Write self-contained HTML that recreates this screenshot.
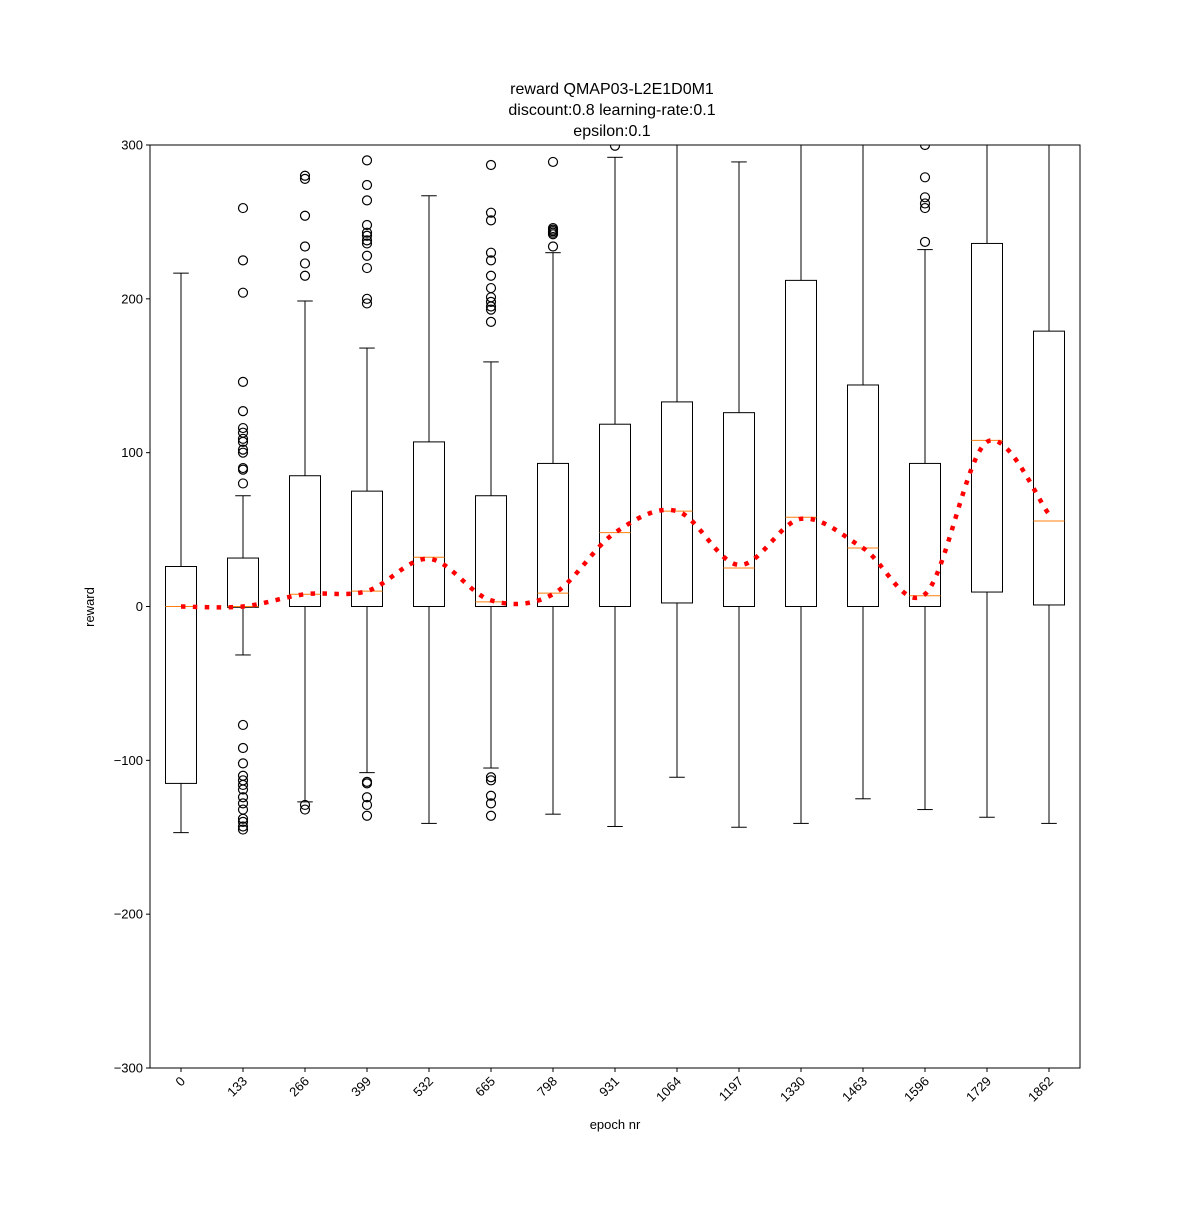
<!DOCTYPE html>
<html><head><meta charset="utf-8"><style>
body{margin:0;background:#fff}
svg text{font-family:"Liberation Sans","DejaVu Sans",sans-serif;fill:#000}
</style></head><body>
<svg id="chart" width="1200" height="1200" xmlns="http://www.w3.org/2000/svg">
<rect width="1200" height="1200" fill="#fff"/>
<g>
<text x="612" y="94" font-size="16" text-anchor="middle">reward QMAP03-L2E1D0M1</text>
<text x="612" y="115" font-size="16" text-anchor="middle">discount:0.8 learning-rate:0.1</text>
<text x="612" y="136" font-size="16" text-anchor="middle">epsilon:0.1</text>
</g>
<defs><clipPath id="pc"><rect x="150" y="145" width="930" height="923"/></clipPath></defs>
<g id="plot" clip-path="url(#pc)"></g>
<g id="axes"></g>
<rect x="150" y="145" width="930" height="923" fill="none" stroke="#000" stroke-width="1"/>
<text x="94" y="607" font-size="13" text-anchor="middle" transform="rotate(-90 94 607)">reward</text>
<text x="615" y="1129" font-size="13" text-anchor="middle">epoch nr</text>
</svg>
<script>
const categories=["0","133","266","399","532","665","798","931","1064","1197","1330","1463","1596","1729","1862"];
const whiskerLow=[-147,-31.5,-127,-108,-141,-105,-135,-143,-111,-143.5,-141,-125,-132,-137,-141];
const q1=[-115,-0.5,0,0,0,0,0,0,2.3,0,0,0,0,9.4,1];
const medians=[0,0,8,10,32,3,8.7,48,62,25,58,38,7,108,55.6];
const q3=[26,31.5,85,75,107,72,93,118.5,133,126,212,144,93,236,179];
const whiskerHigh=[216.7,72,198.6,168,267,159,230,292,340,289,360,330,232,360,340];
const outliers=[[],
[259,225,204,146,127,116,113,109,107,102,100,90,89,80,-77,-92,-102,-110,-113,-116,-119,-124,-128,-132,-138,-140,-143,-145],
[280,278,254,234,223,215,-129,-132],
[290,274,264,248,243,241,238,236,228,220,200,197,-114,-115,-124,-129,-136],
[],
[287,256,251,230,225,215,207,201,198,195,193,185,-111,-113,-123,-128,-136],
[289,246,245,244,243,242,234],
[299.5],[],[],[],[],
[300,279,266,262,259,237],[],[]];
const trend=[0,0,8,10,31,4,8,48,62,27,57,38,8,107,60];
const yTicks=[-300,-200,-100,0,100,200,300];

const NS="http://www.w3.org/2000/svg";
const X0=150,X1=1080,Y0=145,Y1=1068,VMIN=-300,VMAX=300;
const xS=i=>X0+(X1-X0)/categories.length*(i+0.5);
const yS=v=>Y1-(v-VMIN)/(VMAX-VMIN)*(Y1-Y0);
const plot=document.getElementById('plot'),axes=document.getElementById('axes');
function mk(tag,at,par){const e=document.createElementNS(NS,tag);for(const k in at)e.setAttribute(k,at[k]);par.appendChild(e);return e;}
const BW=31,CAP=15.5;
categories.forEach((c,i)=>{
  const x=xS(i);
  const g=mk('g',{},plot);
  
  
  const L={stroke:'#000','stroke-width':1,fill:'none'};
  mk('line',Object.assign({x1:x,x2:x,y1:yS(q3[i]),y2:yS(whiskerHigh[i])},L),g);
  mk('line',Object.assign({x1:x,x2:x,y1:yS(q1[i]),y2:yS(whiskerLow[i])},L),g);
  mk('line',Object.assign({x1:x-CAP/2,x2:x+CAP/2,y1:yS(whiskerHigh[i]),y2:yS(whiskerHigh[i])},L),g);
  mk('line',Object.assign({x1:x-CAP/2,x2:x+CAP/2,y1:yS(whiskerLow[i]),y2:yS(whiskerLow[i])},L),g);
  mk('rect',Object.assign({x:x-BW/2,y:yS(q3[i]),width:BW,height:yS(q1[i])-yS(q3[i])},L),g);
  mk('line',{x1:x-BW/2,x2:x+BW/2,y1:yS(medians[i]),y2:yS(medians[i]),stroke:'#ff7f0e','stroke-width':1},g);
  outliers[i].forEach(v=>{
    const o=mk('circle',{cx:x,cy:yS(v),r:4.5,fill:'none',stroke:'#000','stroke-width':1.2},g);
    
    
  });
  // x tick
  mk('line',{x1:x,x2:x,y1:Y1,y2:Y1+4,stroke:'#000'},axes);
  const t=mk('text',{x:0,y:0,'font-size':13,'text-anchor':'end',transform:`translate(${x+5},${Y1+14}) rotate(-45)`},axes);
  
  
  t.textContent=c;
});
// trend line (Catmull-Rom smooth)
const pts=trend.map((v,i)=>[xS(i),yS(v)]);
let d=`M${pts[0][0]},${pts[0][1]}`;
for(let i=0;i<pts.length-1;i++){
  const p0=pts[Math.max(0,i-1)],p1=pts[i],p2=pts[i+1],p3=pts[Math.min(pts.length-1,i+2)];
  const c1=[p1[0]+(p2[0]-p0[0])/6,p1[1]+(p2[1]-p0[1])/6];
  const c2=[p2[0]-(p3[0]-p1[0])/6,p2[1]-(p3[1]-p1[1])/6];
  d+=` C${c1[0]},${c1[1]} ${c2[0]},${c2[1]} ${p2[0]},${p2[1]}`;
}
const tl=mk('path',{d:d,fill:'none',stroke:'#ff0000','stroke-width':4.5,'stroke-dasharray':'4.5,7.4'},plot);


yTicks.forEach(v=>{
  const y=yS(v);
  mk('line',{x1:X0-4,x2:X0,y1:y,y2:y,stroke:'#000'},axes);
  const t=mk('text',{x:X0-7,y:y+4.5,'font-size':13,'text-anchor':'end'},axes);
  
  
  t.textContent=v<0?'\u2212'+Math.abs(v):String(v);
});
</script>
</body></html>
